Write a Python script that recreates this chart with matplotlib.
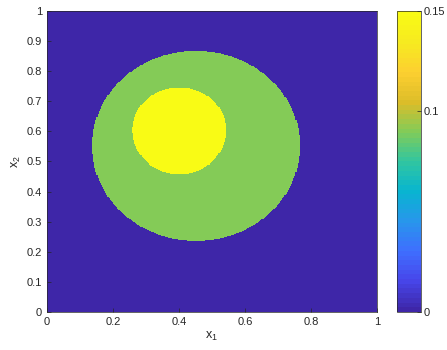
import matplotlib
matplotlib.use('Agg')
import matplotlib.pyplot as plt
import numpy as np
from matplotlib.colors import LinearSegmentedColormap

plt.rcParams['font.family'] = ['Liberation Sans', 'DejaVu Sans']
plt.rcParams['mathtext.fontset'] = 'custom'
plt.rcParams['mathtext.rm'] = 'Liberation Sans'
plt.rcParams['mathtext.it'] = 'Liberation Sans'

# field levels and the two inclusions (centre x, centre y, radius)
background_value = 0.0
outer_value = 0.09
inner_value = 0.15
outer_disc = [0.452, 0.552, 0.315]
inner_disc = [0.401, 0.602, 0.143]
n_grid = 300
cbar_ticks = [0, 0.1, 0.15]
cbar_labels = ['0', '0.1', '0.15']

# approximate MATLAB parula
parula_pts = [(0.2422, 0.1504, 0.6603), (0.2803, 0.2782, 0.9221), (0.2440, 0.4358, 0.9988),
              (0.1540, 0.5902, 0.9218), (0.0297, 0.7082, 0.8163), (0.1938, 0.7758, 0.6251),
              (0.5044, 0.7993, 0.3480), (0.8634, 0.7406, 0.1596), (0.9892, 0.8136, 0.1885),
              (0.9657, 0.9173, 0.1275), (0.9769, 0.9839, 0.0805)]
parula = LinearSegmentedColormap.from_list('parula', parula_pts, N=64)

edges = np.linspace(0, 1, n_grid + 1)
mid = 0.5 * (edges[:-1] + edges[1:])
X, Y = np.meshgrid(mid, mid)
Z = np.full(X.shape, background_value)
Z[(X - outer_disc[0])**2 + (Y - outer_disc[1])**2 <= outer_disc[2]**2] = outer_value
Z[(X - inner_disc[0])**2 + (Y - inner_disc[1])**2 <= inner_disc[2]**2] = inner_value

txt = '#262626'
fig = plt.figure(figsize=(4.47, 3.5), dpi=100)
ax = fig.add_axes([0.105, 0.1086, 0.738, 0.86])
pm = ax.pcolormesh(edges, edges, Z, cmap=parula, vmin=0, vmax=0.15, shading='flat')
ax.set_xlim(0, 1)
ax.set_ylim(0, 1)
ax.set_xticks(np.arange(0, 1.01, 0.2))
ax.set_xticklabels(['0', '0.2', '0.4', '0.6', '0.8', '1'])
ax.set_yticks(np.arange(0, 1.01, 0.1))
ax.set_yticklabels(['0', '0.1', '0.2', '0.3', '0.4', '0.5', '0.6', '0.7', '0.8', '0.9', '1'])
ax.tick_params(direction='in', labelsize=8, colors=txt, length=3, width=0.5)
for s in ax.spines.values():
    s.set_color(txt)
    s.set_linewidth(0.5)
ax.set_xlabel('x$_1$', fontsize=9, color=txt, labelpad=2)
ax.set_ylabel('x$_2$', fontsize=9, color=txt, labelpad=3)

cax = fig.add_axes([0.888, 0.1086, 0.0537, 0.86])
cb = fig.colorbar(pm, cax=cax, ticks=cbar_ticks)
cb.ax.set_yticklabels(cbar_labels)
cb.ax.tick_params(direction='in', labelsize=8, colors=txt, length=3, width=0.5, pad=2)
cb.outline.set_edgecolor(txt)
cb.outline.set_linewidth(0.5)

fig.savefig('out.png', dpi=100)
